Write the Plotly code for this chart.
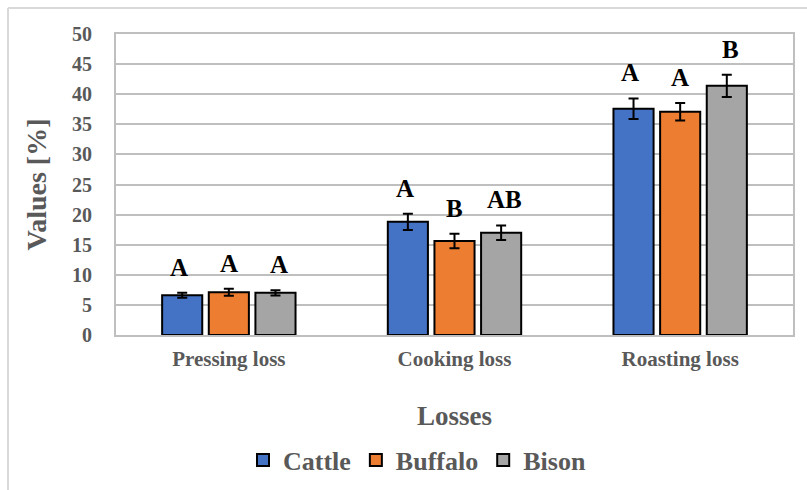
import plotly.graph_objects as go

categories = ["Pressing loss", "Cooking loss", "Roasting loss"]
series_names = ["Cattle", "Buffalo", "Bison"]
cattle = [6.6, 18.8, 37.6]
buffalo = [7.1, 15.6, 37.1]
bison = [7.0, 17.0, 41.4]
cattle_err = [0.4, 1.35, 1.7]
buffalo_err = [0.6, 1.2, 1.45]
bison_err = [0.45, 1.2, 1.85]
cattle_letters = ["A", "A", "A"]
buffalo_letters = ["A", "B", "A"]
bison_letters = ["A", "AB", "B"]
colors = ["#4472C4", "#ED7D31", "#A5A5A5"]

values = [cattle, buffalo, bison]
errors = [cattle_err, buffalo_err, bison_err]
letters = [cattle_letters, buffalo_letters, bison_letters]

W, H = 807, 490
ML, MR, MT, MB = 116, 14, 34, 155
PW, PH = W - ML - MR, H - MT - MB

GRAY = "#595959"
SERIF = "Liberation Serif"

fig = go.Figure()
for name, vals, errs, col in zip(series_names, values, errors, colors):
    fig.add_trace(go.Bar(
        name=name, x=categories, y=vals,
        marker=dict(color=col, line=dict(color="black", width=2)),
        error_y=dict(type="data", array=errs, color="black", thickness=2, width=5),
    ))

offsets = [-50, 0, 50]
for si in range(3):
    for ci, cat in enumerate(categories):
        fig.add_annotation(
            x=cat, y=values[si][ci] + errors[si][ci], xref="x", yref="y",
            xshift=offsets[si], yshift=10, yanchor="bottom",
            text=letters[si][ci], showarrow=False,
            font=dict(family=SERIF, size=25, color="black", weight="bold"),
        )

def px_x(p):
    return (p - ML) / PW

def px_y(p):
    return (H - MB - p) / PH

frame = dict(color="#D9D9D9", width=2)
fig.add_shape(type="line", xref="paper", yref="paper",
              x0=px_x(8), x1=px_x(807), y0=px_y(8), y1=px_y(8), line=frame)
fig.add_shape(type="line", xref="paper", yref="paper",
              x0=px_x(8), x1=px_x(8), y0=px_y(8), y1=px_y(490), line=frame)

fig.update_layout(
    width=W, height=H,
    margin=dict(l=ML, r=MR, t=MT, b=MB, autoexpand=False),
    paper_bgcolor="white", plot_bgcolor="white",
    barmode="group", bargap=0.38, bargroupgap=0.14,
    font=dict(family=SERIF, color=GRAY, weight="bold"),
    showlegend=True,
    legend=dict(orientation="h", x=px_x(417), xanchor="center",
                y=px_y(460), yanchor="middle",
                font=dict(family=SERIF, size=26, color=GRAY, weight="bold"),
                traceorder="normal"),
    xaxis=dict(
        automargin=False,
        showline=True, linecolor="#BFBFBF", linewidth=2, mirror=True,
        tickfont=dict(family=SERIF, size=21, color=GRAY, weight="bold"),
        ticks="", ticklabelstandoff=4,
        title=dict(text="Losses", standoff=36,
                   font=dict(family=SERIF, size=27, color=GRAY, weight="bold")),
    ),
    yaxis=dict(
        automargin=False,
        range=[0, 50], dtick=5, showgrid=True, gridcolor="#BFBFBF", gridwidth=2,
        showline=True, linecolor="#BFBFBF", linewidth=2, mirror=True,
        zeroline=False,
        tickfont=dict(family=SERIF, size=20, color=GRAY, weight="bold"),
        ticks="", ticklabelstandoff=18,
        title=dict(text="Values [%]", standoff=17,
                   font=dict(family=SERIF, size=28, color=GRAY, weight="bold")),
    ),
)

fig.write_html("out.html",
               config={"displayModeBar": False},
               post_script="document.body.style.margin='0';document.body.style.overflow='hidden';")
